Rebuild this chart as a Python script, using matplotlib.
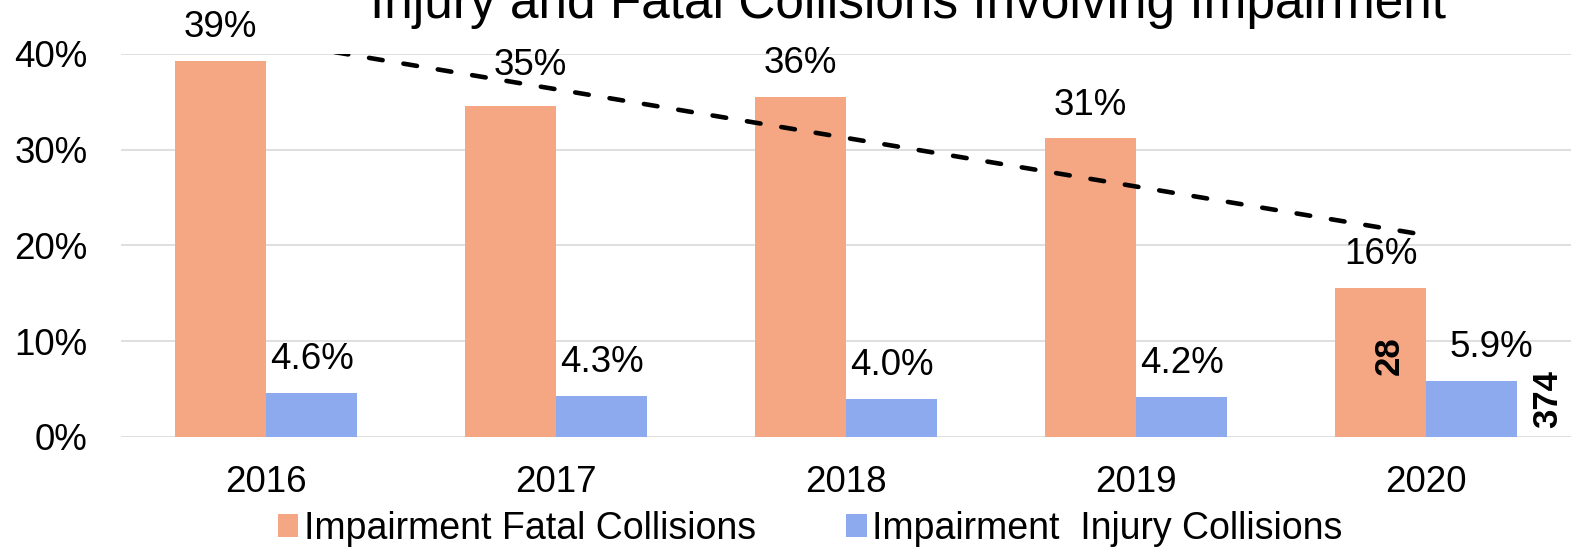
import numpy as np
import matplotlib
matplotlib.use('Agg')
import matplotlib.pyplot as plt

plt.rcParams['font.family'] = ['Liberation Sans', 'DejaVu Sans']

# data
years = ['2016', '2017', '2018', '2019', '2020']
fatal_pct = [39.3, 34.6, 35.5, 31.2, 15.6]
injury_pct = [4.6, 4.3, 4.0, 4.2, 5.9]
fatal_labels = ['39%', '35%', '36%', '31%', '16%']
injury_labels = ['4.6%', '4.3%', '4.0%', '4.2%', '5.9%']
fatal_count_2020 = '28'
injury_count_2020 = '374'

orange = '#F5A683'
blue = '#8DAAEE'
grid_col = '#D9D9D9'

fig = plt.figure(figsize=(15.73, 5.5), dpi=100)
ax = fig.add_axes([121 / 1573, 1 - 437 / 550, 1450 / 1573, 383 / 550])

x = np.arange(len(years))
w = 0.314
b1 = ax.bar(x - w / 2, fatal_pct, w, color=orange, label='Impairment Fatal Collisions', zorder=2)
b2 = ax.bar(x + w / 2, injury_pct, w, color=blue, label='Impairment  Injury Collisions', zorder=2)

# linear trendline on fatal share (clipped by the axes top like the original)
k, c = np.polyfit(x, fatal_pct, 1)
xt = np.linspace(0, 4.01, 50)
ax.plot(xt, k * xt + c, color='black', lw=3.3, linestyle=(0, (3.0, 4.6)),
        dash_capstyle='round', zorder=3)

ax.set_xlim(-0.5, 4.5)
ax.set_ylim(0, 40)
ax.set_yticks([0, 10, 20, 30, 40])
ax.set_yticklabels(['0%', '10%', '20%', '30%', '40%'])
ax.set_xticks(x)
ax.set_xticklabels(years)
ax.tick_params(axis='y', length=0, pad=24, labelsize=26.5)
ax.tick_params(axis='x', length=0, pad=20, labelsize=26.5)
ax.yaxis.grid(True, color=grid_col, lw=1.2, zorder=0)
ax.set_axisbelow(True)
for s in ax.spines.values():
    s.set_visible(False)

# value labels
for i in range(len(years)):
    dx = 14 if i == 1 else 0
    dy = 22 if i == 1 else 17
    ax.annotate(fatal_labels[i], (x[i] - w / 2, fatal_pct[i]), xytext=(dx, dy),
                textcoords='offset points', ha='center', va='baseline',
                fontsize=26.5, annotation_clip=False)
    dx = 14 if i == 4 else 0
    ax.annotate(injury_labels[i], (x[i] + w / 2, injury_pct[i]), xytext=(dx, 17),
                textcoords='offset points', ha='center', va='baseline',
                fontsize=26.5, annotation_clip=False)

# counts for 2020
ax.annotate(fatal_count_2020, (x[4] - w / 2, 8.5), xytext=(6, 0), textcoords='offset points',
            rotation=90, ha='center', va='center', fontsize=25, fontweight='bold')
ax.annotate(injury_count_2020, (x[4] + w, 4.0), xytext=(10, 0), textcoords='offset points',
            rotation=90, ha='left', va='center', fontsize=25, fontweight='bold',
            annotation_clip=False)

fig.text(908 / 1573, 1 - 18 / 550, 'Injury and Fatal Collisions Involving Impairment',
         ha='center', va='baseline', fontsize=37)

fig.legend(handles=[b1, b2], loc='center', bbox_to_anchor=(810 / 1573, 1 - 529 / 550),
           ncol=2, frameon=False, fontsize=27, handlelength=0.55, handleheight=0.55,
           handletextpad=0.15, columnspacing=2.4, borderpad=0, borderaxespad=0)

fig.savefig('out.png', dpi=100)
